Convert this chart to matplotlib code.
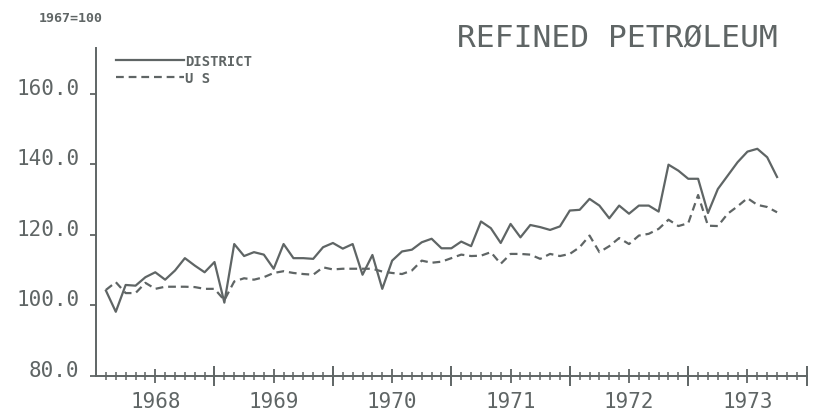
import matplotlib
matplotlib.use('Agg')
import matplotlib.pyplot as plt

# months counted from Jul 1967 (0) to Jul 1973 (72)
months = list(range(1, 70))
district = [104.2, 98.2, 105.8, 105.6, 108.0, 109.4, 107.3, 109.9, 113.4, 111.3,
            109.4, 112.3, 100.8, 117.4, 114.0, 115.1, 114.4, 110.4, 117.4, 113.4,
            113.4, 113.2, 116.5, 117.7, 116.1, 117.4, 108.7, 114.3, 104.7, 112.7,
            115.3, 115.8, 117.9, 118.9, 116.2, 116.2, 118.1, 116.8, 123.8, 121.9,
            117.7, 123.1, 119.3, 122.8, 122.2, 121.4, 122.4, 126.9, 127.1, 130.2,
            128.3, 124.7, 128.3, 126.0, 128.3, 128.3, 126.6, 139.9, 138.2, 135.9,
            135.9, 126.2, 133.0, 136.8, 140.6, 143.6, 144.4, 142.0, 136.4]
us = [104.4, 106.6, 103.5, 103.5, 106.4, 104.7, 105.3, 105.3, 105.3, 105.2,
      104.7, 104.7, 101.5, 106.8, 107.7, 107.3, 108.0, 109.2, 109.7, 109.2,
      108.9, 108.7, 110.8, 110.2, 110.4, 110.4, 110.4, 110.4, 109.6, 109.2,
      108.9, 109.9, 112.7, 112.1, 112.4, 113.4, 114.4, 114.0, 114.1, 115.1,
      111.8, 114.6, 114.6, 114.4, 113.2, 114.6, 114.0, 114.6, 116.5, 119.8,
      115.1, 116.8, 119.1, 117.4, 119.8, 120.3, 121.7, 124.3, 122.5, 123.3,
      131.3, 122.6, 122.5, 126.0, 128.1, 130.4, 128.5, 127.9, 126.4]

year_labels = ['1968', '1969', '1970', '1971', '1972', '1973']
year_label_pos = [6, 18, 30, 42, 54, 66]
year_bounds = [12, 24, 36, 48, 60, 72]
y_ticks = [80, 100, 120, 140, 160]

ink = '#5f6565'
mono = 'DejaVu Sans Mono'

fig = plt.figure(figsize=(8.14, 4.14), dpi=100)
ax = fig.add_axes([0.118, 0.0894, 0.873, 0.7925])

ax.plot(months, district, color=ink, lw=1.6, label='DISTRICT')
ax.plot(months, us, color=ink, lw=1.6, dashes=(3.5, 2.2), label='U S')

ax.set_xlim(0, 72)
ax.set_ylim(80, 173)

for s in ['top', 'right']:
    ax.spines[s].set_visible(False)
for s in ['left', 'bottom']:
    ax.spines[s].set_color(ink)
    ax.spines[s].set_linewidth(1.4)

ax.set_yticks(y_ticks)
ax.set_yticklabels([f'{v:.1f}' for v in y_ticks], fontfamily=mono, fontsize=15,
                   color=ink, va='baseline')
ax.tick_params(axis='y', direction='out', length=4, width=1.3, color=ink, pad=8)

ax.set_xticks(year_label_pos)
ax.set_xticklabels(year_labels, fontfamily=mono, fontsize=15, color=ink)
ax.set_xticks(months + [70, 71], minor=True)
ax.tick_params(axis='x', which='major', direction='inout', length=10, width=1.3,
               color=ink, pad=6)
ax.tick_params(axis='x', which='minor', direction='inout', length=6, width=1.1,
               color=ink)

sec = ax.secondary_xaxis(0)
sec.set_xticks(year_bounds)
sec.set_xticklabels([])
sec.tick_params(direction='inout', length=15, width=1.4, color=ink)
sec.spines['bottom'].set_visible(False)

leg = ax.legend(loc='upper left', bbox_to_anchor=(0.01, 1.02), frameon=False,
                handlelength=4.9, handletextpad=0.1, labelspacing=0.25,
                prop={'family': mono, 'size': 10, 'weight': 'bold'})
for t in leg.get_texts():
    t.set_color(ink)

fig.text(0.048, 0.955, '1967=100', fontfamily=mono, fontsize=9.5, fontweight='bold',
         color=ink, va='center')
fig.text(0.956, 0.905, 'REFINED PETRØLEUM', fontfamily=mono, fontsize=22.5,
         color=ink, ha='right', va='center')

fig.savefig('out.png', dpi=100)
